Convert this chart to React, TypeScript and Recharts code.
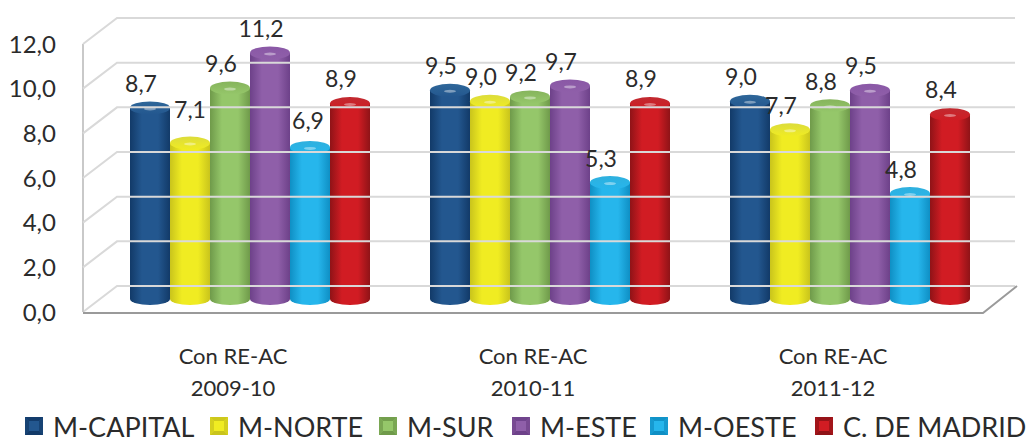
import { Bar, ComposedChart, LabelList, Legend, Line, ReferenceLine, XAxis, YAxis } from "recharts";

const seasons = ["2009-10", "2010-11", "2011-12"];
const categoryPrefix = "Con RE-AC";
const mCapital = [8.7, 9.5, 9.0];
const mNorte = [7.1, 9.0, 7.7];
const mSur = [9.6, 9.2, 8.8];
const mEste = [11.2, 9.7, 9.5];
const mOeste = [6.9, 5.3, 4.8];
const cMadrid = [8.9, 8.9, 8.4];
const yTicks = [0, 2, 4, 6, 8, 10, 12];

const series = [
  { key: "mCapital", name: "M-CAPITAL", values: mCapital, dark: "#123a68", mid: "#23578f", top: "#2f6799" },
  { key: "mNorte", name: "M-NORTE", values: mNorte, dark: "#c9c41c", mid: "#f0ec22", top: "#dcdc3c" },
  { key: "mSur", name: "M-SUR", values: mSur, dark: "#6f9a4a", mid: "#95c76a", top: "#86b45c" },
  { key: "mEste", name: "M-ESTE", values: mEste, dark: "#6d4189", mid: "#8f5fa9", top: "#8a58a6" },
  { key: "mOeste", name: "M-OESTE", values: mOeste, dark: "#0f8fc4", mid: "#26b6ec", top: "#2fb0de" },
  { key: "cMadrid", name: "C. DE MADRID", values: cMadrid, dark: "#8f1317", mid: "#d11c23", top: "#c12a30" },
];

const data = seasons.map((season, i) => {
  const row: Record<string, string | number> = { season };
  series.forEach((s) => {
    row[s.key] = s.values[i];
  });
  return row;
});

// the chart is a flat picture of a 3D one: walls sit behind the front plane
const depthX = 34;
const depthY = 26;
const font = "Lato, sans-serif";
const textColor = "#2b2b2b";

const legendLefts = [25, 210, 379, 512, 650, 815];

// labels that were moved by hand in the original
const labelNudge: Record<string, [number, number]> = {
  "mNorte-0": [9, -9],
  "mOeste-0": [7, -2],
};

function WallLine(props: any) {
  const { x1, x2, y1 } = props;
  const backY = y1 - depthY;
  return (
    <path
      d={`M${x1},${y1} L${x1 + depthX},${backY} L${x2 + 32},${backY}`}
      fill="none"
      stroke="#d9d9d9"
      strokeWidth={2}
    />
  );
}

function FloorLine(props: any) {
  const { x1, x2, y1 } = props;
  const backY = y1 - depthY;
  return (
    <g fill="none">
      <path d={`M${x1},${y1} L${x1 + depthX},${backY} L${x2 + 32},${backY}`} stroke="#d9d9d9" strokeWidth={2} />
      <path d={`M${x1},${y1 - 268} L${x1},${y1}`} stroke="#c9c9c9" strokeWidth={2} />
      <path d={`M${x1},${y1 + 1} L${x2},${y1 + 1} L${x2 + depthX},${backY}`} stroke="#9a9a9a" strokeWidth={2} />
    </g>
  );
}

function cylinder(gradientId: string, topId: string) {
  return function Cylinder(props: any) {
    const { x, y, width, height } = props;
    const left = x + depthX / 2;
    const right = left + width;
    const top = y - depthY / 2;
    const bottom = top + height;
    const cx = left + width / 2;
    return (
      <g>
        <path
          d={`M${left},${top} L${left},${bottom} A${width / 2},6 0 0 0 ${right},${bottom} L${right},${top} Z`}
          fill={`url(#${gradientId})`}
        />
        <ellipse cx={cx} cy={top} rx={width / 2} ry={6.5} fill={`url(#${topId})`} />
        <ellipse cx={cx} cy={top + 1} rx={6} ry={1.5} fill="#ffffff" opacity={0.4} />
      </g>
    );
  };
}

function valueLabel(seriesKey: string) {
  return function ValueLabel(props: any) {
    const { x, y, width, value, index } = props;
    const [nx, ny] = labelNudge[`${seriesKey}-${index}`] ?? [0, 0];
    return (
      <text
        x={x + width / 2 + depthX / 2 - 9 + nx}
        y={y - depthY / 2 - 25 + ny}
        textAnchor="middle"
        dominantBaseline="central"
        fontFamily={font}
        fontSize={23}
        fill={textColor}
      >
        {Number(value).toFixed(1).replace(".", ",")}
      </text>
    );
  };
}

function CategoryTick(props: any) {
  const { x, payload } = props;
  return (
    <g fontFamily={font} fontSize={22} fill={textColor} textAnchor="middle">
      <text x={x} y={355} dominantBaseline="central">
        {categoryPrefix}
      </text>
      <text x={x} y={387} dominantBaseline="central">
        {payload.value}
      </text>
    </g>
  );
}

function BevelSwatch({ s }: { s: (typeof series)[number] }) {
  return (
    <svg width={18} height={18} style={{ position: "absolute", left: 0, top: 7 }}>
      <rect width={18} height={18} fill={s.mid} />
      <path d="M0,0 L18,0 L14,4 L4,4 Z" fill={s.dark} opacity={0.9} />
      <path d="M0,18 L18,18 L14,14 L4,14 Z" fill={s.dark} />
      <path d="M0,0 L4,4 L4,14 L0,18 Z" fill={s.dark} opacity={0.7} />
      <path d="M18,0 L14,4 L14,14 L18,18 Z" fill={s.dark} opacity={0.7} />
    </svg>
  );
}

function ChartLegend() {
  return (
    <div style={{ position: "relative", width: 1029, height: 30 }}>
      {series.map((s, i) => (
        <div key={s.key} style={{ position: "absolute", left: legendLefts[i], top: 0, whiteSpace: "nowrap" }}>
          <BevelSwatch s={s} />
          <span
            style={{
              marginLeft: 28,
              fontFamily: font,
              fontSize: 27,
              lineHeight: "34px",
              color: "#2b2b2b",
            }}
          >
            {s.name}
          </span>
        </div>
      ))}
    </div>
  );
}

export default function App() {
  return (
    <div style={{ position: "absolute", left: 0, top: 0, width: 1029, height: 442, background: "#fff" }}>
      <ComposedChart
        width={1029}
        height={442}
        data={data}
        margin={{ top: 44, right: 46, bottom: 0, left: 0 }}
        barCategoryGap={30}
        barGap={0}
      >
        <defs>
          {series.map((s) => (
            <linearGradient key={s.key} id={`body-${s.key}`} x1="0" y1="0" x2="1" y2="0">
              <stop offset="0" stopColor={s.dark} />
              <stop offset="0.3" stopColor={s.mid} />
              <stop offset="0.7" stopColor={s.mid} />
              <stop offset="1" stopColor={s.dark} />
            </linearGradient>
          ))}
          {series.map((s) => (
            <linearGradient key={s.key} id={`top-${s.key}`} x1="0" y1="0" x2="0" y2="1">
              <stop offset="0" stopColor={s.top} />
              <stop offset="1" stopColor={s.mid} />
            </linearGradient>
          ))}
        </defs>
        <XAxis
          dataKey="season"
          axisLine={false}
          tickLine={false}
          height={98}
          interval={0}
          tick={<CategoryTick />}
        />
        <YAxis
          yAxisId="wall"
          width={83}
          domain={[0, 12]}
          ticks={yTicks}
          axisLine={false}
          tickLine={false}
          tickMargin={21}
          tick={{ fill: textColor, fontSize: 24, fontFamily: font }}
          tickFormatter={(v: number) => v.toFixed(1).replace(".", ",")}
        />
        {/* bars run slightly shorter than the front-plane axis in the original */}
        <YAxis yAxisId="bars" hide width={0} domain={[0, 12.2]} />
        {/* invisible, only here so the wall axis has a series and gets drawn */}
        <Line
          yAxisId="wall"
          dataKey="mCapital"
          stroke="none"
          dot={false}
          activeDot={false}
          legendType="none"
          isAnimationActive={false}
        />
        {yTicks.map((t) =>
          t === 0 ? (
            <ReferenceLine key={t} yAxisId="wall" y={t} shape={<FloorLine />} />
          ) : (
            <ReferenceLine key={t} yAxisId="wall" y={t} shape={<WallLine />} />
          ),
        )}
        <Legend
          verticalAlign="bottom"
          height={32}
          wrapperStyle={{ left: 0, width: 1029, bottom: 0 }}
          content={<ChartLegend />}
        />
        {series.map((s) => {
          const Shape = cylinder(`body-${s.key}`, `top-${s.key}`);
          const Label = valueLabel(s.key);
          return (
            <Bar
              key={s.key}
              yAxisId="bars"
              dataKey={s.key}
              name={s.name}
              isAnimationActive={false}
              shape={<Shape />}
            >
              <LabelList dataKey={s.key} content={<Label />} />
            </Bar>
          );
        })}
      </ComposedChart>
    </div>
  );
}
